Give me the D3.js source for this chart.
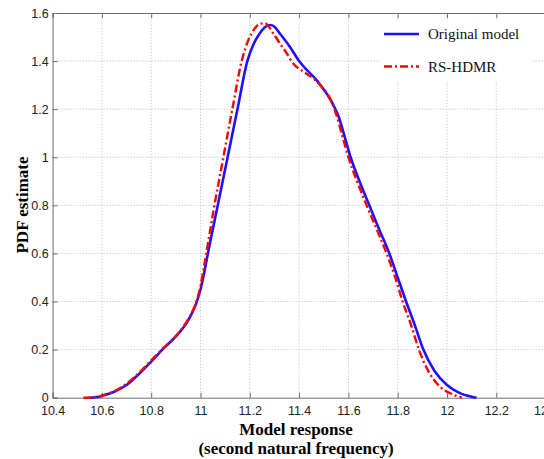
<!DOCTYPE html>
<html><head><meta charset="utf-8">
<script src="https://cdn.jsdelivr.net/npm/d3@7"></script>
<style>body{margin:0;background:#fff}svg{display:block}</style>
</head><body>
<script>
const xTicks = [10.4,10.6,10.8,11,11.2,11.4,11.6,11.8,12,12.2,12.4];
const yTicks = [0,0.2,0.4,0.6,0.8,1,1.2,1.4,1.6];
const seriesNames = ["Original model","RS-HDMR"];
const origX = [10.55,10.58,10.6,10.65,10.7,10.75,10.8,10.85,10.9,10.94,10.96,10.98,11.0,11.015,11.03,11.07,11.11,11.15,11.19,11.215,11.24,11.26,11.282,11.3,11.322,11.363,11.4,11.431,11.471,11.49,11.515,11.54,11.56,11.585,11.609,11.645,11.685,11.725,11.766,11.8,11.834,11.87,11.904,11.95,12.0,12.05,12.1,12.12];
const origY = [0,0.003,0.008,0.025,0.053,0.098,0.15,0.205,0.255,0.305,0.34,0.385,0.45,0.52,0.6,0.8,1.0,1.2,1.4,1.47,1.515,1.54,1.55,1.543,1.515,1.459,1.4,1.363,1.321,1.295,1.26,1.215,1.17,1.085,1.0,0.9,0.8,0.7,0.6,0.5,0.4,0.3,0.2,0.11,0.053,0.02,0.004,0];
const rsX = [10.525,10.55,10.6,10.65,10.7,10.75,10.8,10.85,10.9,10.94,10.955,10.97,10.985,11.0,11.015,11.03,11.053,11.091,11.129,11.167,11.194,11.22,11.24,11.262,11.295,11.322,11.35,11.376,11.417,11.458,11.492,11.525,11.55,11.575,11.6,11.635,11.674,11.715,11.755,11.79,11.82,11.855,11.886,11.93,11.975,12.02,12.06];
const rsY = [0,0.001,0.008,0.027,0.058,0.103,0.155,0.207,0.256,0.31,0.335,0.365,0.405,0.465,0.55,0.64,0.78,0.99,1.2,1.4,1.487,1.535,1.555,1.557,1.515,1.473,1.432,1.39,1.356,1.328,1.293,1.245,1.18,1.09,1.0,0.9,0.8,0.7,0.6,0.5,0.4,0.3,0.2,0.1,0.043,0.015,0];

const W=544,H=459;
const m={l:52.6,t:13,r:-1.6,b:61.3};
const svg=d3.select("body").append("svg").attr("width",W).attr("height",H);
const x=d3.scaleLinear().domain([10.4,12.4]).range([m.l,W-m.r]);
const y=d3.scaleLinear().domain([0,1.6]).range([H-m.b,m.t]);
const gridC="#b8b8b8", axC="#6e6e6e";

// grid
svg.append("g").selectAll("line").data(xTicks.slice(1,-1)).join("line")
 .attr("x1",d=>x(d)).attr("x2",d=>x(d)).attr("y1",y(0)).attr("y2",y(1.6))
 .attr("stroke",gridC).attr("stroke-width",1).attr("stroke-dasharray","1,2");
svg.append("g").selectAll("line").data(yTicks.slice(1,-1)).join("line")
 .attr("x1",x(10.4)).attr("x2",x(12.4)).attr("y1",d=>y(d)).attr("y2",d=>y(d))
 .attr("stroke",gridC).attr("stroke-width",1).attr("stroke-dasharray","1,2");

// axes
const xa=svg.append("g").attr("transform",`translate(0,${y(0)})`)
 .call(d3.axisBottom(x).tickValues(xTicks).tickSize(-5).tickPadding(8).tickFormat(d3.format("")));
const xt=svg.append("g").attr("transform",`translate(0,${y(1.6)})`)
 .call(d3.axisTop(x).tickValues(xTicks).tickSize(-5).tickFormat(""));
const ya=svg.append("g").attr("transform",`translate(${x(10.4)},0)`)
 .call(d3.axisLeft(y).tickValues(yTicks).tickSize(-5).tickPadding(4).tickFormat(d3.format("")));
[xa,xt,ya].forEach(g=>{
  g.select(".domain").attr("stroke",axC);
  g.selectAll(".tick line").attr("stroke",axC);
  g.selectAll("text").attr("fill","#222").style("font-family","'Liberation Sans',Arial,sans-serif").style("font-size","12.5px");
});

// lines
const line=d3.line().x(d=>x(d[0])).y(d=>y(d[1])).curve(d3.curveMonotoneX);
const origData=origX.map((v,i)=>[v,origY[i]]);
const rsData=rsX.map((v,i)=>[v,rsY[i]]);
svg.append("path").attr("d",line(origData)).attr("fill","none").attr("stroke","#1f10ff").attr("stroke-width",2.6);
svg.append("path").attr("d",line(rsData)).attr("fill","none").attr("stroke","#ff0000").attr("stroke-width",2.4).attr("stroke-dasharray","8,3,2,3");

// legend
svg.append("rect").attr("x",380).attr("y",20).attr("width",152).attr("height",62).attr("fill","#fff");
const lg=[{n:seriesNames[0],c:"#1f10ff",d:null,w:2.6,yy:34},{n:seriesNames[1],c:"#ff0000",d:"8,3,2,3",w:2.4,yy:66.5}];
lg.forEach(o=>{
  svg.append("line").attr("x1",384).attr("x2",419).attr("y1",o.yy).attr("y2",o.yy)
   .attr("stroke",o.c).attr("stroke-width",o.w).attr("stroke-dasharray",o.d);
  svg.append("text").attr("x",428).attr("y",o.yy+5).text(o.n)
   .style("font-family","'Liberation Serif','Times New Roman',serif").style("font-size","15px").attr("fill","#111");
});

// axis titles
svg.append("text").attr("x",296).attr("y",435).attr("text-anchor","middle").text("Model response")
 .style("font-family","'Liberation Serif','Times New Roman',serif").style("font-size","17px").style("font-weight","bold");
svg.append("text").attr("x",296).attr("y",454).attr("text-anchor","middle").text("(second natural frequency)")
 .style("font-family","'Liberation Serif','Times New Roman',serif").style("font-size","17px").style("font-weight","bold");
svg.append("text").attr("transform","translate(28,205) rotate(-90)").attr("text-anchor","middle").text("PDF estimate")
 .style("font-family","'Liberation Serif','Times New Roman',serif").style("font-size","17px").style("font-weight","bold");
</script>
</body></html>
